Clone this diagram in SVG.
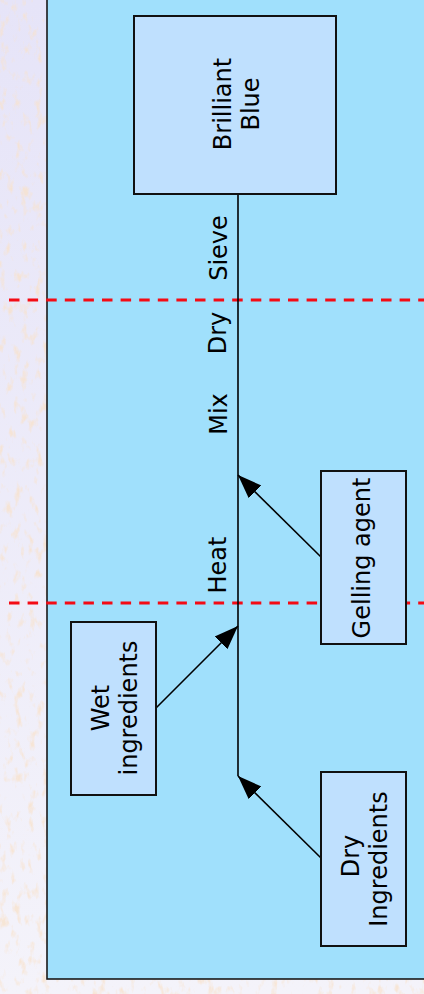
<svg xmlns="http://www.w3.org/2000/svg" width="424" height="994" viewBox="0 0 424 994">
  <style>
    .box { fill: #bfe0fe; stroke: #111; stroke-width: 2; }
    .lbl { font-family: "DejaVu Sans", Verdana, sans-serif; font-size: 24px; fill: #000; text-anchor: middle; }
    .conn { stroke: #000; stroke-width: 1.6; fill: none; }
    .dash { stroke: #f40b14; stroke-width: 3; stroke-dasharray: 10.5 8.1; fill: none; }
  </style>
  <defs>
    <linearGradient id="bgGrad" x1="0" y1="0" x2="0" y2="1">
      <stop offset="0" stop-color="#e6e4f8"/>
      <stop offset="1" stop-color="#f4f3fa"/>
    </linearGradient>
    <filter id="tex" x="0" y="0" width="100%" height="100%" filterUnits="objectBoundingBox">
      <feTurbulence type="fractalNoise" baseFrequency="0.14 0.07" numOctaves="3" seed="7" result="n"/>
      <feColorMatrix in="n" type="matrix" values="0 0 0 0 0.94  0 0 0 0 0.76  0 0 0 0 0.6  4 0 0 0 -2.2"/>
    </filter>
    <marker id="arrow" markerUnits="userSpaceOnUse" markerWidth="26" markerHeight="20" viewBox="0 -10 26 20" refX="24" refY="0" orient="auto">
      <path d="M0,-9 L24,0 L0,9 Z" fill="#000"/>
    </marker>
  </defs>

  <g id="background">
    <rect x="0" y="0" width="424" height="994" fill="url(#bgGrad)"/>
    <rect x="0" y="0" width="424" height="994" fill="#fff" filter="url(#tex)" opacity="0.75"/>
    <rect x="47" y="-10" width="400" height="989" fill="#a0e0fc" stroke="#1a1a1a" stroke-width="1.6"/>
  </g>

  <g id="stage-dividers">
    <line class="dash" x1="9" y1="300" x2="424" y2="300"/>
    <line class="dash" x1="9" y1="603" x2="424" y2="603"/>
  </g>

  <g id="connectors">
    <line class="conn" x1="238" y1="194" x2="238" y2="776"/>
    <line class="conn" x1="321" y1="557" x2="238" y2="475" marker-end="url(#arrow)"/>
    <line class="conn" x1="156" y1="708" x2="238" y2="626" marker-end="url(#arrow)"/>
    <line class="conn" x1="321" y1="858" x2="238" y2="776" marker-end="url(#arrow)"/>
  </g>

  <g id="step-labels">
    <text class="lbl" transform="translate(227,248) rotate(-90)">Sieve</text>
    <text class="lbl" transform="translate(226,333) rotate(-90)">Dry</text>
    <text class="lbl" transform="translate(227,414) rotate(-90)">Mix</text>
    <text class="lbl" transform="translate(226,565) rotate(-90)">Heat</text>
  </g>

  <g id="node-brilliant-blue">
    <rect class="box" x="134" y="16" width="202" height="178"/>
    <text class="lbl" transform="translate(231,104) rotate(-90)">Brilliant</text>
    <text class="lbl" transform="translate(259,104) rotate(-90)">Blue</text>
  </g>

  <g id="node-gelling-agent">
    <rect class="box" x="321" y="471" width="85" height="173"/>
    <text class="lbl" transform="translate(370,558) rotate(-90)">Gelling agent</text>
  </g>

  <g id="node-wet-ingredients">
    <rect class="box" x="71" y="622" width="85" height="173"/>
    <text class="lbl" transform="translate(108.5,708) rotate(-90)">Wet</text>
    <text class="lbl" transform="translate(136.5,708) rotate(-90)">ingredients</text>
  </g>

  <g id="node-dry-ingredients">
    <rect class="box" x="321" y="772" width="85" height="174"/>
    <text class="lbl" transform="translate(358.5,856) rotate(-90)">Dry</text>
    <text class="lbl" transform="translate(386.5,859) rotate(-90)">Ingredients</text>
  </g>
</svg>
